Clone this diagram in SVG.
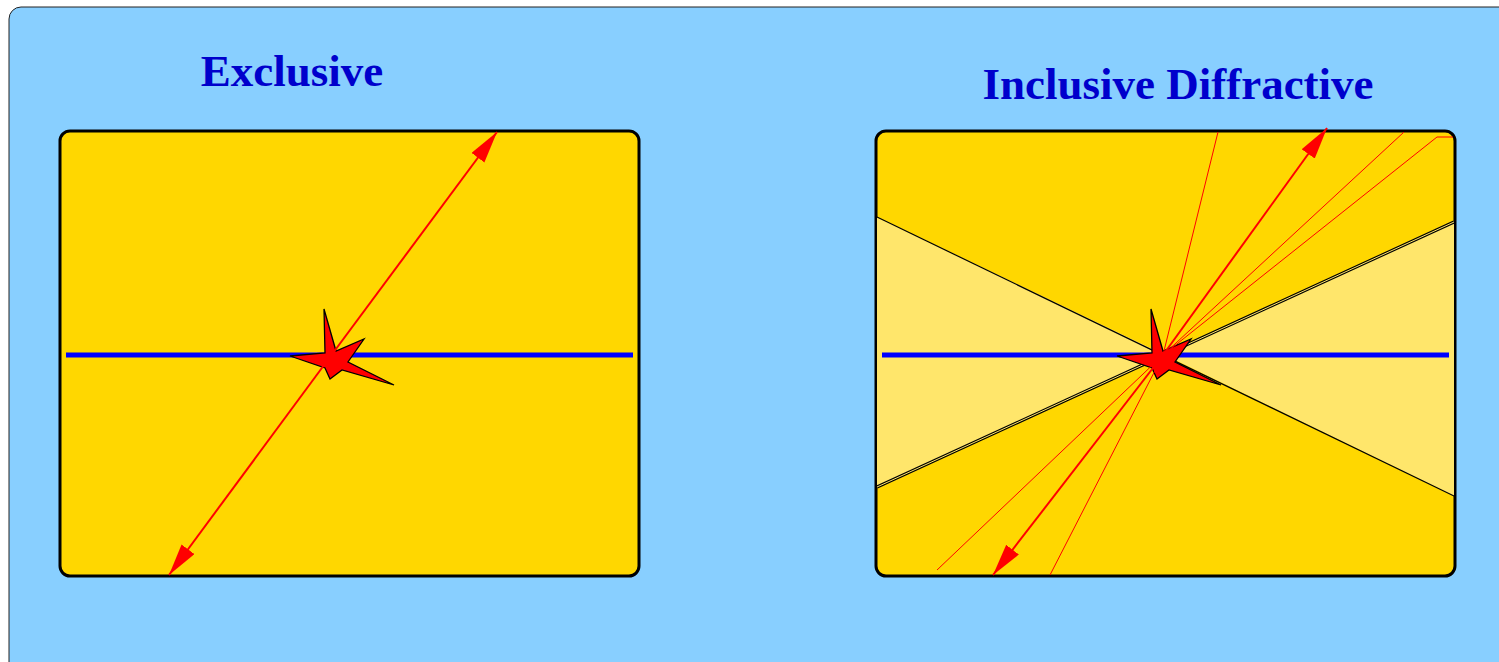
<svg xmlns="http://www.w3.org/2000/svg" width="1499" height="662" viewBox="0 0 1499 662">
<style>
.title{font-family:"Liberation Serif","Times New Roman",serif;font-weight:bold;font-size:45px;fill:#0000CC;text-anchor:middle}
.panel{fill:#FFD700;stroke:#000;stroke-width:3}
.beam{stroke:#0000FF;stroke-width:5;fill:none}
.star{fill:#FF0000;stroke:#000;stroke-width:1.3}
.arrow{stroke:#FF0000;stroke-width:2;fill:none}
.ray{stroke:#FF0000;stroke-width:1;fill:none}
.cone{fill:#FFE66B;stroke:none}
.edge{stroke:#000;stroke-width:1.2;fill:none}
</style>
<defs>
<marker id="ah" markerUnits="userSpaceOnUse" markerWidth="34" markerHeight="18" refX="32" refY="8" orient="auto-start-reverse" viewBox="0 0 34 18">
<path d="M0,0 L32,8 L0,16 z" fill="#FF0000"/>
</marker>
<polygon id="starShape" points="324,309 336,351 364,339 348,362 394,385 342,370 330,379 325,368 290,356 325,353"/>
</defs>
<rect x="9" y="7" width="1510" height="680" rx="12" ry="12" fill="#88CFFF" stroke="#222" stroke-width="1"/>
<text class="title" x="292" y="86">Exclusive</text>
<text class="title" x="1178" y="99">Inclusive Diffractive</text>

<g id="exclusive">
<rect class="panel" x="60" y="131" width="579" height="445" rx="10" ry="10"/>
<line class="beam" x1="66" y1="355" x2="633" y2="355"/>
<use href="#starShape" class="star"/>
</g>

<g id="inclusive">
<rect class="panel" x="876" y="131" width="579" height="445" rx="10" ry="10"/>
<polygon class="cone" points="877,217 1165,355 877,487"/>
<polygon class="cone" points="1454,222 1165,355 1454,496"/>
<line class="edge" x1="877" y1="217" x2="1454" y2="496"/>
<line x1="877" y1="487" x2="1454" y2="222" stroke="#000" stroke-width="3.2"/>
<line x1="877" y1="487" x2="1454" y2="222" stroke="#FFE66B" stroke-width="1"/>
<line class="beam" x1="882" y1="355" x2="1449" y2="355"/>
<use href="#starShape" class="star" transform="translate(827,0)"/>
</g>

<g id="connectors">
<line class="arrow" x1="330" y1="357" x2="497" y2="132" marker-end="url(#ah)"/>
<line class="arrow" x1="330" y1="357" x2="169" y2="575" marker-end="url(#ah)"/>
<line class="ray" x1="1163" y1="355" x2="1218" y2="132"/>
<line class="arrow" stroke-width="2.5" x1="1163" y1="355" x2="1327" y2="128" marker-end="url(#ah)"/>
<line class="ray" x1="1163" y1="355" x2="1404" y2="132"/>
<polyline class="ray" points="1163,355 1437,137 1453,137"/>
<line class="ray" x1="1163" y1="355" x2="937" y2="570"/>
<line class="arrow" stroke-width="2.5" x1="1163" y1="355" x2="993" y2="575" marker-end="url(#ah)"/>
<line class="ray" x1="1163" y1="355" x2="1050" y2="575"/>
</g>
</svg>
